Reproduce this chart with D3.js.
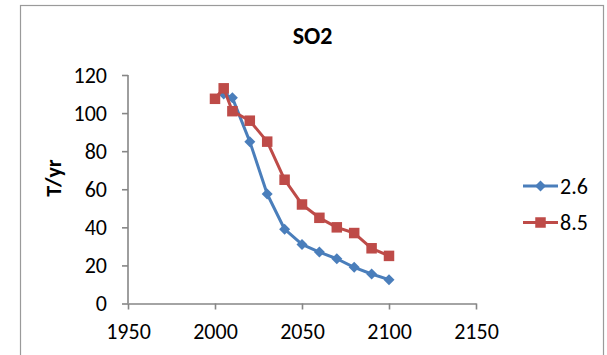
<!DOCTYPE html>
<html>
<head>
<meta charset="utf-8">
<script src="https://cdn.jsdelivr.net/npm/d3@7"></script>
<style>
  html, body { margin: 0; padding: 0; background: #fff; }
  svg { display: block; font-family: Calibri, Carlito, "Liberation Sans", Arial, sans-serif; }
</style>
</head>
<body>
<svg id="chart" width="607" height="355"></svg>
<script>
// SO2 emissions (T/yr) under two scenarios
const years = [2000, 2005, 2010, 2020, 2030, 2040, 2050, 2060, 2070, 2080, 2090, 2100];
const rcp26 = [null, 110, 108, 85, 57.5, 39, 31, 27, 23.5, 19, 15.5, 12.5];
const rcp85 = [107.5, 113, 101, 96, 85, 65, 52, 45, 40, 37, 29, 25];
const seriesNames = ["2.6", "8.5"];
const xTicks = [1950, 2000, 2050, 2100, 2150];
const yTicks = [0, 20, 40, 60, 80, 100, 120];

const svg = d3.select("#chart");
const axisColor = "#868686";
const colors = ["#4A7EBB", "#BE4B48"];
const fontStack = "Calibri, Carlito, 'Liberation Sans', Arial, sans-serif";

// chart frame
svg.append("rect")
  .attr("x", 20.5).attr("y", 5.5)
  .attr("width", 583).attr("height", 360)
  .attr("fill", "#fff").attr("stroke", "#9a9a9a").attr("stroke-width", 1.2);

const x = d3.scaleLinear().domain([1950, 2150]).range([128, 476]);
const y = d3.scaleLinear().domain([0, 120]).range([303.5, 75]);

// title
svg.append("text")
  .attr("x", 312.5).attr("y", 44)
  .attr("text-anchor", "middle")
  .attr("font-weight", "bold").attr("font-size", 24)
  .text("SO2");

// y axis
const yAxis = svg.append("g")
  .attr("transform", `translate(${x(1950)},0)`)
  .call(d3.axisLeft(y).tickValues(yTicks).tickSize(6).tickPadding(15).tickSizeOuter(0));
// x axis
const xAxis = svg.append("g")
  .attr("transform", `translate(0,${y(0)})`)
  .call(d3.axisBottom(x).tickValues(xTicks).tickFormat(d3.format("d")).tickSize(6).tickPadding(14).tickSizeOuter(0));

[yAxis, xAxis].forEach(g => {
  g.select(".domain").attr("stroke", axisColor).attr("stroke-width", 1.6);
  g.selectAll(".tick line").attr("stroke", axisColor).attr("stroke-width", 1.6);
  g.selectAll(".tick text").attr("fill", "#000").attr("font-size", 22)
    .style("font-family", fontStack);
});
yAxis.select(".domain").attr("d", `M0,${y(0)}V${y(120)}`);

// y axis title
svg.append("text")
  .attr("transform", `translate(61,178) rotate(-90)`)
  .attr("text-anchor", "middle")
  .attr("font-weight", "bold").attr("font-size", 22)
  .text("T/yr");

// series
const series = [rcp26, rcp85].map((vals, i) => ({
  name: seriesNames[i],
  color: colors[i],
  points: years.map((yr, j) => ({ yr, v: vals[j] })).filter(p => p.v != null)
}));

const line = d3.line().x(d => x(d.yr)).y(d => y(d.v));

function drawMarker(g, i, cx, cy) {
  if (i === 0) {
    const r = 5.5;
    g.append("path")
      .attr("d", `M${cx},${cy - r}L${cx + r},${cy}L${cx},${cy + r}L${cx - r},${cy}Z`)
      .attr("fill", colors[i]);
  } else {
    const s = 10.5;
    g.append("rect")
      .attr("x", cx - s / 2).attr("y", cy - s / 2)
      .attr("width", s).attr("height", s)
      .attr("fill", colors[i]);
  }
}

series.forEach((s, i) => {
  const g = svg.append("g");
  g.append("path")
    .datum(s.points)
    .attr("d", line)
    .attr("fill", "none")
    .attr("stroke", s.color)
    .attr("stroke-width", 3)
    .attr("stroke-linejoin", "round");
  s.points.forEach(p => drawMarker(g, i, x(p.yr), y(p.v)));
});

// legend
const legendY = [186, 222.5];
series.forEach((s, i) => {
  const g = svg.append("g");
  g.append("line")
    .attr("x1", 523).attr("x2", 558)
    .attr("y1", legendY[i]).attr("y2", legendY[i])
    .attr("stroke", s.color).attr("stroke-width", 3);
  drawMarker(g, i, 540.5, legendY[i]);
  g.append("text")
    .attr("x", 560).attr("y", legendY[i] + 7.5)
    .attr("font-size", 22)
    .text(s.name);
});
</script>
</body>
</html>
